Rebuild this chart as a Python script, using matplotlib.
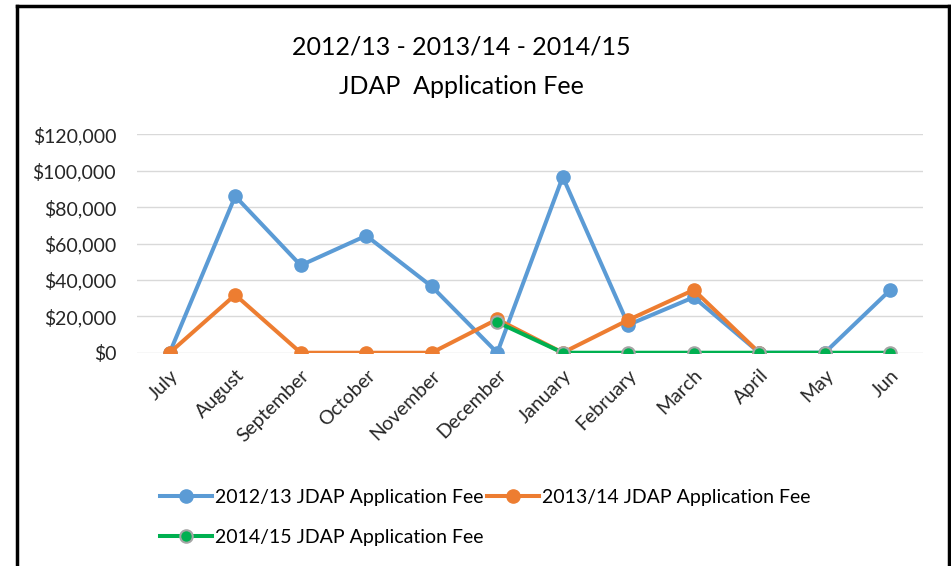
import numpy as np
import matplotlib
matplotlib.use("Agg")
import matplotlib.pyplot as plt
from matplotlib.lines import Line2D
from matplotlib.ticker import FuncFormatter

months = ["July", "August", "September", "October", "November", "December",
          "January", "February", "March", "April", "May", "Jun"]
fee_2012_13 = [0, 86000, 48000, 64300, 36400, 0, 96600, 15300, 30500, 0, 0, 34500]
fee_2013_14 = [0, 31800, 0, 0, 0, 18400, 0, 18000, 34500, 0, np.nan, np.nan]
fee_2014_15 = [np.nan, np.nan, np.nan, np.nan, np.nan, 16800, 0, 0, 0, 0, 0, 0]
series_names = ["2012/13 JDAP Application Fee", "2013/14 JDAP Application Fee",
                "2014/15 JDAP Application Fee"]

plt.rcParams['font.family'] = ['Lato', 'DejaVu Sans']

fig = plt.figure(figsize=(9.51, 5.66), dpi=100)
ax = fig.add_axes([0.144, 0.3768, 0.8266, 0.3859])

x = np.arange(len(months))
h1, = ax.plot(x, fee_2012_13, color="#5B9BD5", lw=2.9, marker="o", ms=9.5,
              markeredgecolor="#5B9BD5", zorder=3)
h2, = ax.plot(x, fee_2013_14, color="#ED7D31", lw=2.9, marker="o", ms=9.5,
              markeredgecolor="#ED7D31", zorder=4)
h3, = ax.plot(x, fee_2014_15, color="#00B050", lw=2.9, marker="o", ms=9,
              markeredgecolor="#A5A5A5", markeredgewidth=1.5, zorder=5)

ax.set_xlim(-0.5, len(months) - 0.5)
ax.set_ylim(0, 120000)
ax.set_yticks(np.arange(0, 120001, 20000))
ax.yaxis.set_major_formatter(FuncFormatter(lambda v, p: f"${v:,.0f}"))
ax.set_xticks(x)
ax.set_xticklabels(months, rotation=45, ha="right", rotation_mode="anchor")
ax.tick_params(axis="both", length=0, labelsize=14, colors="#262626")
ax.tick_params(axis="x", pad=10)
ax.tick_params(axis="y", pad=15)
ax.grid(axis="y", color="#D9D9D9", lw=1)
ax.set_axisbelow(True)
for s in ax.spines.values():
    s.set_visible(False)

fig.text(0.485, 0.917, "2012/13 - 2013/14 - 2014/15", ha="center", va="center",
         fontsize=18, color="#000000")
fig.text(0.485, 0.847, "JDAP  Application Fee", ha="center", va="center",
         fontsize=18, color="#000000")

fig.legend([h1, h3, h2], [series_names[0], series_names[2], series_names[1]],
           ncol=2, loc="upper left", bbox_to_anchor=(0.160, 0.150),
           frameon=False, fontsize=14, handlelength=2.7, handletextpad=0.15,
           columnspacing=0.15, labelspacing=1.2, borderaxespad=0)

# chart frame
fig.add_artist(Line2D([17 / 951, 17 / 951], [0, 1 - 6 / 566], color="black", lw=2.5,
                      transform=fig.transFigure))
fig.add_artist(Line2D([17 / 951, 949 / 951], [1 - 6 / 566, 1 - 6 / 566], color="black",
                      lw=2.5, transform=fig.transFigure))
fig.add_artist(Line2D([949 / 951, 949 / 951], [0, 1 - 6 / 566], color="black", lw=2.5,
                      transform=fig.transFigure))

fig.savefig("out.png", dpi=100)
